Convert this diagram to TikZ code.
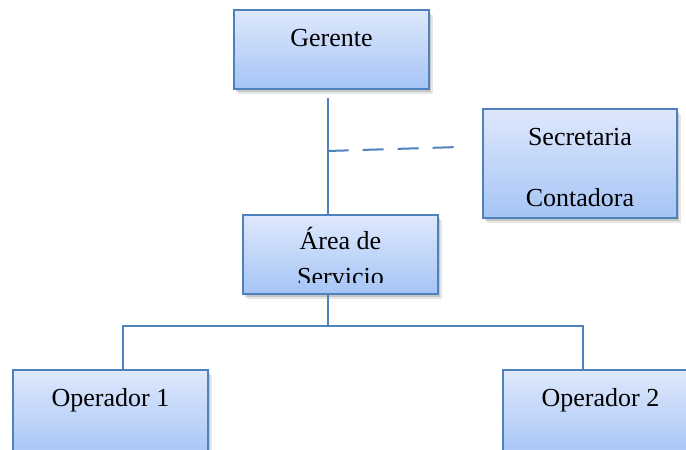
\documentclass[tikz,border=0pt]{standalone}
\usepackage{fontspec}
\setmainfont{Liberation Serif}
\usetikzlibrary{shadows}
\definecolor{linea}{RGB}{79,129,189}
\definecolor{claro}{RGB}{222,232,252}
\definecolor{oscuro}{RGB}{165,196,245}
\tikzset{
    box/.style ={
        rectangle,
        minimum width =195pt,
        minimum height =79pt,
        inner sep=0pt,
        text height=36pt,
        text depth=43pt,
        align=center,
        top color=claro,
        bottom color=oscuro,
        draw=linea,
        line width=1.8pt,
        drop shadow={shadow xshift=3.5pt,shadow yshift=-4.5pt,opacity=0.2},
        drop shadow={shadow xshift=1.5pt,shadow yshift=-2.5pt,opacity=0.3}
    },
    boxtext/.style ={
        inner sep=0pt,
        text height=71pt,
        align=center
    },
    conn/.style ={draw=linea, line width=2pt}
}

\begin{document}
\begin{tikzpicture}[x=1pt,y=-1pt,font=\fontsize{26}{31}\selectfont]
        \useasboundingbox (0,0) rectangle (686,450);

        \node[box] (gerente) at (331.5,49.5) {Gerente};
        \node[box, minimum width=194pt, minimum height=109pt, text height=97pt, text depth=12pt] (secretaria) at (580,163.5) {Secretaria\\[30pt]Contadora};
        \node[box] (area) at (340.5,254.5) {};
        \node[box, minimum height=88pt, text depth=52pt] (op1) at (110.5,414) {Operador 1};
        \node[box, minimum height=88pt, text depth=52pt] (op2) at (600.5,414) {Operador 2};

        \begin{scope}
            \clip (area.north west) rectangle (438,282);
            \node[boxtext, anchor=north] (areatext) at (area.north) {Área de\\[5pt]Servicio};
        \end{scope}

        \coordinate (tronco) at (327.7,98);
        \coordinate (rama) at (327.7,151);
        \coordinate (ramafin) at (459,147);
        \coordinate (busL) at (122.7,325.7);
        \coordinate (busR) at (582.7,325.7);

        \draw[conn] (tronco)--(tronco |- area.north);
        \draw[conn, dash pattern=on 21pt off 14pt] (rama)--(ramafin);
        \draw[conn] (tronco |- area.south)--(tronco |- busL);
        \draw[conn] (busL |- op1.north)--(busL)--(busR)--(busR |- op2.north);
    \end{tikzpicture}
\end{document}
